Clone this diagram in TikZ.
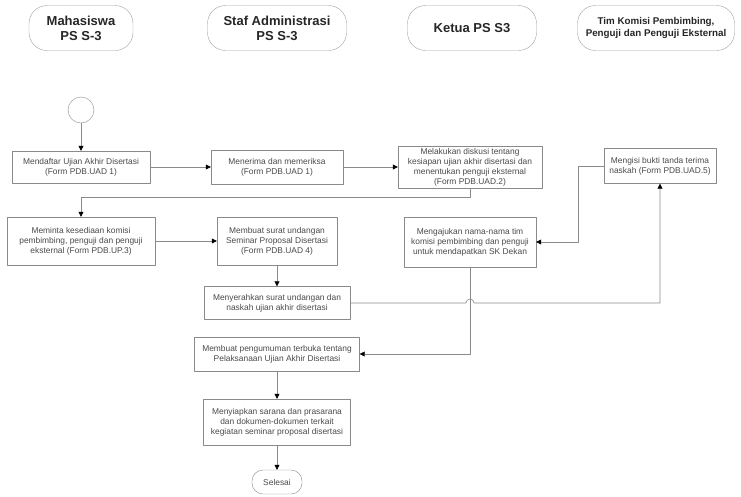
\documentclass[tikz,border=0pt]{standalone}
\usepackage{fontspec}
\setmainfont{Liberation Sans}
\usetikzlibrary{arrows.meta}
\definecolor{garis}{HTML}{8A8A8A}
\definecolor{teks}{HTML}{4A4A4A}
\begin{document}
\begin{tikzpicture}[line join = round, x=1pt, y=1pt,
	kotak/.style={draw=garis, fill=white, align=center, text=teks, inner sep=1pt, font=\fontsize{8.4}{10}\selectfont},
	judul/.style={draw=garis!80, rounded corners=18pt, minimum height=45pt, align=center, text=black!85, font=\bfseries\fontsize{13}{15}\selectfont},
	alur/.style={draw=garis, line width=0.6pt, -{Triangle[length=5pt,width=5pt,black]}}]
	%Alur Ujian Akhir Disertasi PS S-3.
	\useasboundingbox (0,0) rectangle (741,-496);
	\node[judul, minimum width=104pt] (mhs) at (81,-28) {Mahasiswa\\PS S-3};
	\node[judul, minimum width=139pt] (staf) at (277,-28) {Staf Administrasi\\PS S-3};
	\node[judul, minimum width=129pt] (kps) at (472,-28) {Ketua PS S3};
	\node[judul, minimum width=157pt, font=\bfseries\fontsize{9.8}{12}\selectfont] (tim) at (656,-28) {Tim Komisi Pembimbing,\\Penguji dan Penguji Eksternal};
	\node[draw=garis, circle, minimum size=26pt, inner sep=0pt] (mulai) at (81,-110) {};
	\node[kotak, minimum width=138pt, minimum height=32pt] (daftar) at (81,-167) {Mendaftar Ujian Akhir Disertasi\\(Form PDB.UAD 1)};
	\node[kotak, minimum width=132pt, minimum height=34pt] (terima) at (277,-167) {Menerima dan memeriksa\\(Form PDB.UAD 1)};
	\node[kotak, minimum width=144pt, minimum height=42pt] (diskusi) at (470,-167) {Melakukan diskusi tentang\\kesiapan ujian akhir disertasi dan\\menentukan penguji eksternal\\(Form PDB.UAD.2)};
	\node[kotak, minimum width=112pt, minimum height=35pt] (bukti) at (660,-166) {Mengisi bukti tanda terima\\naskah (Form PDB.UAD.5)};
	\node[kotak, minimum width=148pt, minimum height=48pt] (minta) at (81,-241) {Meminta kesediaan komisi\\pembimbing, penguji dan penguji\\eksternal (Form PDB.UP.3)};
	\node[kotak, minimum width=120pt, minimum height=48pt] (surat) at (277,-241) {Membuat surat undangan\\Seminar Proposal Disertasi\\(Form PDB.UAD 4)};
	\node[kotak, minimum width=132pt, minimum height=50pt] (ajukan) at (470,-242) {Mengajukan nama-nama tim\\komisi pembimbing dan penguji\\untuk mendapatkan SK Dekan};
	\node[kotak, minimum width=146pt, minimum height=33pt] (serah) at (277,-303) {Menyerahkan surat undangan dan\\naskah ujian akhir disertasi};
	\node[kotak, minimum width=165pt, minimum height=34pt] (umum) at (277,-354) {Membuat pengumuman terbuka tentang\\Pelaksanaan Ujian Akhir Disertasi};
	\node[kotak, minimum width=147pt, minimum height=46pt] (siap) at (277,-422) {Menyiapkan sarana dan prasarana\\dan dokumen-dokumen terkait\\kegiatan seminar proposal disertasi};
	\node[kotak, rounded corners=11pt, minimum width=50pt, minimum height=24pt] (selesai) at (277,-482) {Selesai};
	\foreach \a/\b in {mulai/daftar,daftar/terima,terima/diskusi,minta/surat,surat/serah,umum/siap,siap/selesai}
	\draw[alur] (\a) -- (\b);
	\draw[alur] (diskusi.south) -- ++(0,-9) -| (minta.north);
	\draw[alur] (serah.east) -- ([xshift=-4pt]ajukan.south |- serah.east) arc (180:0:4) -- (bukti.south |- serah.east) -- (bukti.south);
	\draw[alur] (bukti.west) -- ++(-26,0) |- (ajukan.east);
	\draw[alur] (ajukan.south) |- (umum.east);
\end{tikzpicture}
\end{document}
